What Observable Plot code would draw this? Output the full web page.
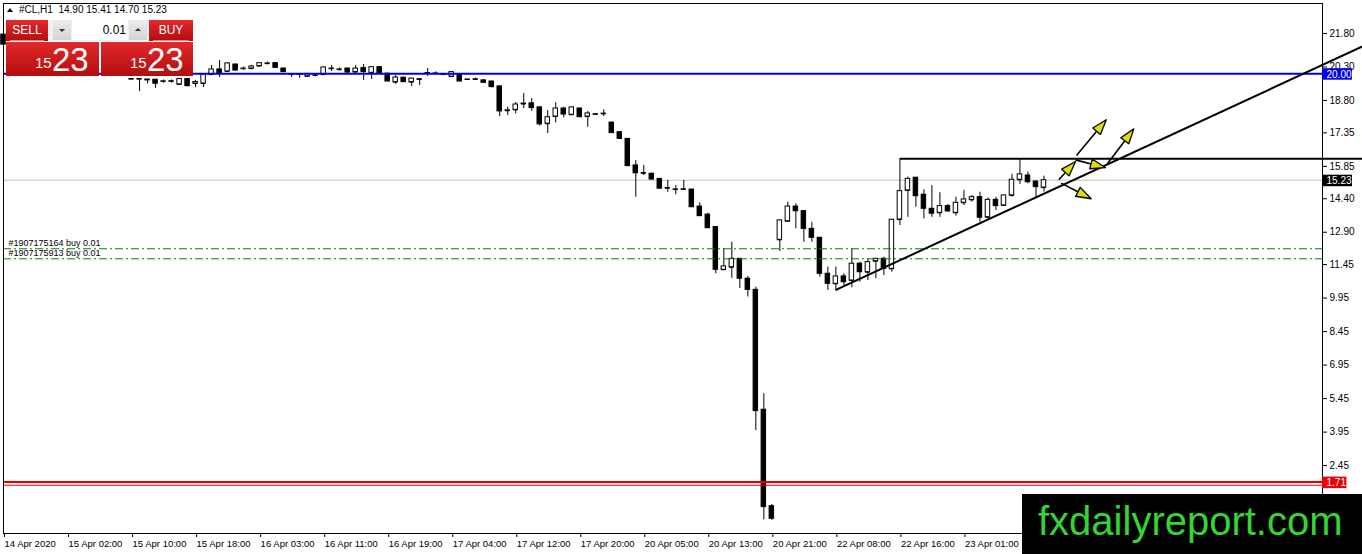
<!DOCTYPE html>
<html>
<head>
<meta charset="utf-8">
<script src="https://cdn.jsdelivr.net/npm/d3@7"></script>
<script src="https://cdn.jsdelivr.net/npm/@observablehq/plot@0.6"></script>
<style>
  body { margin: 0; background: white; font-family: "Liberation Sans", Arial, sans-serif; }
  #wrap { position: relative; width: 1362px; height: 554px; overflow: hidden; }
  #chart svg { display: block; }
  .hdr { position: absolute; left: 7px; top: 4px; font-size: 10px; color: black; white-space: pre; }
  .hdr .tri { display: inline-block; width: 0; height: 0; border-left: 3px solid transparent; border-right: 3px solid transparent; border-bottom: 4px solid black; margin-right: 6px; vertical-align: 1px; }
  .red { position: absolute; background: linear-gradient(#e2292b, #b30d0d); color: white; }
  .btn { font-size: 12px; text-align: center; line-height: 21px; height: 21px; top: 20px; }
  .btn::after { content: ""; position: absolute; left: 4px; right: 4px; bottom: 0; border-bottom: 1px solid #f08080; }
  .gray { position: absolute; top: 20px; height: 20px; width: 18px; background: linear-gradient(#ececec, #d4d4d4); }
  .gray span { position: absolute; left: 6px; width: 0; height: 0; border-left: 3px solid transparent; border-right: 3px solid transparent; }
  .inp { position: absolute; left: 72px; top: 20px; width: 56px; height: 20px; background: white; font-size: 12px; line-height: 20px; text-align: right; box-sizing: border-box; padding-right: 2px; }
  .big { top: 42px; height: 34px; }
  .big .s { position: absolute; font-size: 15px; top: 12px; }
  .big .b { position: absolute; font-size: 33px; top: -1px; }
  .wm { position: absolute; left: 1022px; top: 494px; width: 340px; height: 60px; background: black; }
  .wm span { position: absolute; left: 16px; top: 7px; font-size: 40px; line-height: 40px; color: #35d535; font-family: "Liberation Sans", Arial, sans-serif; }
</style>
</head>
<body>
<div id="wrap">
  <div id="chart"></div>
  <div class="hdr" id="hdr"></div>
  <div style="position:absolute;left:48px;top:20px;width:101px;height:21px;background:#f0f0f0"></div>
  <div class="red btn" style="left:6px;width:42px">SELL</div>
  <div class="gray" style="left:53px"><span style="top:9px;border-top:3px solid #333"></span></div>
  <div class="inp" id="lot"></div>
  <div class="gray" style="left:129px"><span style="top:8px;border-bottom:3px solid #333"></span></div>
  <div class="red btn" style="left:149px;width:44px">BUY</div>
  <div class="red big" style="left:6px;width:93px"><span class="s" id="bidS" style="left:29px"></span><span class="b" id="bidB" style="left:46px"></span></div>
  <div class="red big" style="left:101px;width:92px"><span class="s" id="askS" style="left:29px"></span><span class="b" id="askB" style="left:46px"></span></div>
  <div class="wm"><span>fxdailyreport.com</span></div>
</div>
<script>
// #CL H1, barras horarias (indice 0 = 15 Apr 10:00)
const open  = [19.76,19.76,19.74,19.73,19.65,19.66,19.52,19.76,19.56,19.56,19.96,20.19,20.10,20.41,20.22,20.23,20.34,20.45,20.47,20.23,
               19.97,19.97,19.88,19.92,19.96,20.22,20.18,20.23,20.07,20.25,20.04,20.29,20.00,19.62,19.82,19.62,19.75,20.02,20.00,19.96,
               19.87,19.96,19.74,19.74,19.70,19.65,19.43,18.34,18.38,18.64,18.67,18.49,17.76,18.08,18.44,18.16,18.44,18.08,18.18,18.20,
               17.81,17.38,17.08,15.89,15.54,15.52,15.29,14.87,14.81,14.82,14.81,14.05,13.69,13.13,11.22,11.33,11.71,10.82,10.32,4.95,
               0.63,12.56,13.39,14.05,13.84,13.05,12.65,11.04,10.59,10.92,10.74,11.49,11.11,11.60,11.71,11.26,13.47,14.77,15.34,14.58,
               13.95,13.77,14.07,13.77,14.22,14.35,14.47,13.57,14.35,14.10,14.55,15.25,15.44,15.17,14.90]
const high  = [19.78,19.77,19.75,19.74,19.72,19.72,19.77,19.78,19.70,19.97,20.37,20.59,20.48,20.43,20.30,20.37,20.49,20.52,20.50,20.26,
               19.98,19.98,20.01,19.98,20.30,20.37,20.26,20.25,20.37,20.41,20.31,20.32,20.02,19.92,19.84,19.80,19.76,20.23,20.08,19.98,
               20.09,19.98,19.75,19.80,19.72,19.67,19.45,18.50,18.71,19.11,18.88,18.51,18.35,18.70,18.50,18.51,18.46,18.31,18.20,18.38,
               17.83,17.40,17.10,16.11,15.89,15.54,15.31,15.22,14.99,15.22,14.83,14.22,13.75,13.15,12.17,12.45,11.73,10.92,10.44,5.67,
               0.71,13.45,14.25,14.17,13.86,13.34,12.67,11.34,11.34,11.04,12.16,11.56,11.71,11.73,11.78,13.48,16.19,15.37,15.36,14.80,
               14.99,14.67,14.14,14.47,14.77,14.55,14.69,14.44,14.47,14.56,15.49,16.19,15.59,15.20,15.41]
const low   = [19.72,19.20,19.55,19.34,19.57,19.58,19.50,19.42,19.37,19.38,19.94,19.83,20.08,20.12,20.15,20.17,20.33,20.40,20.24,20.05,
               19.83,19.79,19.83,19.85,19.94,20.10,20.12,19.96,20.05,19.70,19.74,19.98,19.63,19.52,19.60,19.43,19.47,19.87,19.95,19.93,
               19.85,19.63,19.70,19.70,19.57,19.36,18.08,18.13,18.20,18.44,18.31,17.65,17.32,17.80,18.03,18.14,18.03,17.60,18.15,18.08,
               17.32,17.06,15.84,14.47,15.44,15.24,14.83,14.69,14.58,14.77,14.00,13.60,13.06,11.04,11.20,10.83,10.38,10.00,4.02,0.02,
               0.00,12.04,13.37,13.05,12.45,12.45,10.89,10.29,10.32,10.51,10.41,10.66,10.74,10.82,10.96,11.11,13.20,13.57,14.02,13.50,
               13.57,13.57,13.80,13.62,14.10,14.25,13.35,13.50,13.87,14.07,14.47,15.04,15.07,14.43,14.70]
const close = [19.75,19.75,19.70,19.55,19.66,19.65,19.76,19.44,19.63,19.96,20.19,20.02,20.46,20.14,20.23,20.32,20.47,20.46,20.26,20.07,
               19.96,19.95,19.99,19.93,20.28,20.23,20.19,20.05,20.23,20.07,20.29,20.00,19.65,19.83,19.62,19.78,19.73,20.03,20.01,19.95,
               20.07,19.65,19.73,19.75,19.59,19.40,18.31,18.36,18.62,18.66,18.46,17.73,18.05,18.44,18.17,18.49,18.05,18.22,18.17,18.21,
               17.34,17.08,15.86,15.54,15.55,15.26,14.85,14.88,14.82,14.81,14.02,13.62,13.08,11.22,11.37,11.71,10.82,10.32,4.89,0.59,
               0.07,13.43,14.05,13.84,13.05,12.65,11.04,10.59,10.92,10.66,11.49,11.11,11.56,11.71,11.26,13.46,14.74,15.29,14.51,13.95,
               13.73,14.07,13.83,14.22,14.37,14.47,13.55,14.35,14.07,14.55,15.25,15.49,15.14,14.92,15.23]

// vela cortada en el borde izquierdo (14 Apr)
const edgeBar = {bar: -16, open: 21.75, high: 21.80, low: 21.25, close: 21.30}

const xTickBars   = [-16, -8, 0, 8, 16, 24, 32, 40, 48, 56, 64, 72, 80, 88, 96, 104]
const xTickLabels = ["14 Apr 2020", "15 Apr 02:00", "15 Apr 10:00", "15 Apr 18:00", "16 Apr 03:00", "16 Apr 11:00",
                     "16 Apr 19:00", "17 Apr 04:00", "17 Apr 12:00", "17 Apr 20:00", "20 Apr 05:00", "20 Apr 13:00",
                     "20 Apr 21:00", "22 Apr 08:00", "22 Apr 16:00", "23 Apr 01:00"]
const yTicks = [21.80, 20.30, 18.80, 17.35, 15.85, 14.40, 12.90, 11.45, 9.95, 8.45, 6.95, 5.45, 3.95, 2.45]

// niveles horizontales
const blueLevel  = 20.00
const redLevel   = 1.71
const red2Level  = 1.57
const orderLevels = [12.16, 11.71]
const orderLabels = ["#1907175164 buy 0.01", "#1907175913 buy 0.01"]

// lineas dibujadas a mano (barra, precio)
const resistance = {x1: 96, x2: 153.8, y1: 16.19, y2: 16.19}
const trendLine  = {x1: 87.94, x2: 153.8, y1: 10.31, y2: 21.22}
const arrowFromBar   = [118.06, 121.90, 115.85, 117.94, 116.15]
const arrowFromPrice = [16.34, 15.96, 15.25, 16.14, 15.10]
const arrowToBar     = [121.78, 125.23, 117.94, 121.69, 119.90]
const arrowToPrice   = [17.94, 17.53, 16.07, 15.79, 14.40]

const W = 1362, H = 554, mL = 3, mR = 40, mT = 3, mB = 21
const xDomain = [-16, 148.8]
const yDomain = [-0.591, 23.143]

const bars = [edgeBar].concat(open.map((o, k) => ({bar: k, open: o, high: high[k], low: low[k], close: close[k]})))
const last = bars[bars.length - 1]
const bid = last.close

// escalas iguales a las de Plot, para las puntas de flecha en pixeles
const xs = d3.scaleLinear(xDomain, [mL, W - mR])
const ys = d3.scaleLinear(yDomain, [H - mB, mT])
const headLen = 15, headW = 5
const arrows = arrowFromBar.map((b, k) => {
  const sx = xs(b), sy = ys(arrowFromPrice[k]), tx = xs(arrowToBar[k]), ty = ys(arrowToPrice[k])
  const len = Math.hypot(tx - sx, ty - sy)
  const ux = (tx - sx) / len, uy = (ty - sy) / len
  const bx = tx - ux * headLen, by = ty - uy * headLen
  return {
    x1: b, y1: arrowFromPrice[k], x2: xs.invert(bx + ux * 2), y2: ys.invert(by + uy * 2),
    head: [[tx, ty], [bx - uy * headW, by + ux * headW], [bx + uy * headW, by - ux * headW]]
      .map(([px, py]) => ({id: k, x: xs.invert(px), y: ys.invert(py)}))
  }
})
const heads = arrows.flatMap(a => a.head)

const tagX2 = label => xs.invert(W - mR + label.length * 5.6 + 2)
const tagY = (p, d) => ys.invert(ys(p) + d)
function tag(price, label, fill) {
  return [
    Plot.rect([price], {x1: xDomain[1], x2: tagX2(label), y1: p => tagY(p, -5), y2: p => tagY(p, 6.5), fill}),
    Plot.text([price], {x: xDomain[1], y: p => p, text: () => label, fill: "white", textAnchor: "start", dx: 4, dy: 1, fontSize: 10})
  ]
}

let chart = Plot.plot({
  width: W,
  height: H,
  marginLeft: mL,
  marginRight: mR,
  marginTop: mT,
  marginBottom: mB,
  style: {fontFamily: "Liberation Sans, Arial, sans-serif", background: "white", color: "black"},
  x: {type: "linear", domain: xDomain},
  y: {domain: yDomain},
  marks: [
    Plot.ruleY([bid], {stroke: "#c0c0c0"}),
    Plot.ruleX(bars, {x: "bar", y1: "low", y2: "high", stroke: "black"}),
    Plot.rect(bars, {x1: d => d.bar - 0.28, x2: d => d.bar + 0.28, y1: "open", y2: "close",
      fill: d => d.close >= d.open ? "white" : "black", stroke: "black"}),
    Plot.ruleY(bars, {y: "open", x1: d => d.bar - 0.28, x2: d => d.bar + 0.28, stroke: "black"}),
    Plot.ruleY([blueLevel], {stroke: "#0000e6", strokeWidth: 2}),
    Plot.ruleY(orderLevels, {stroke: "#0a800a", strokeDasharray: "8,3,2,3"}),
    Plot.text(orderLevels, {x: xDomain[0], y: d => d, text: (d, i) => orderLabels[i], textAnchor: "start", dx: 5, dy: -6, fontSize: 9}),
    Plot.ruleY([redLevel], {stroke: "#e60000", strokeWidth: 2}),
    Plot.ruleY([red2Level], {stroke: "#e60000", strokeWidth: 1}),
    Plot.link([resistance], {x1: "x1", x2: "x2", y1: "y1", y2: "y2", stroke: "black", strokeWidth: 2}),
    Plot.link([trendLine], {x1: "x1", x2: "x2", y1: "y1", y2: "y2", stroke: "black", strokeWidth: 2}),
    Plot.link(arrows, {x1: "x1", x2: "x2", y1: "y1", y2: "y2", stroke: "black", strokeWidth: 1.6}),
    Plot.line(heads, {x: "x", y: "y", z: "id", curve: "linear-closed", fill: "#dede00", stroke: "black", strokeWidth: 1.3}),
    Plot.frame({stroke: "black"}),
    Plot.axisX({ticks: xTickBars, tickFormat: d => xTickLabels[xTickBars.indexOf(d)], textAnchor: "start",
      tickSize: 4, tickPadding: 3, dx: 1, fontSize: 9.5, label: null}),
    Plot.axisY({anchor: "right", ticks: yTicks, tickFormat: d => d.toFixed(2), tickSize: 4, tickPadding: 3,
      fontSize: 10, label: null}),
    ...tag(blueLevel, blueLevel.toFixed(2), "#0000e6"),
    ...tag(bid, bid.toFixed(2), "black"),
    ...tag(redLevel, redLevel.toFixed(2), "#ee0000"),
  ]
})

d3.select('#chart').append(() => chart)

// cabecera y panel de un clic
const f2 = v => v.toFixed(2)
d3.select('#hdr').html(`<span class="tri"></span>#CL,H1  ${f2(last.open)} ${f2(last.high)} ${f2(last.low)} ${f2(last.close)}`)
d3.select('#lot').text("0.01")
const [bidInt, bidDec] = f2(bid).split(".")
d3.select('#bidS').text(bidInt); d3.select('#bidB').text(bidDec)
d3.select('#askS').text(bidInt); d3.select('#askB').text(bidDec)
</script>
</body>
</html>
